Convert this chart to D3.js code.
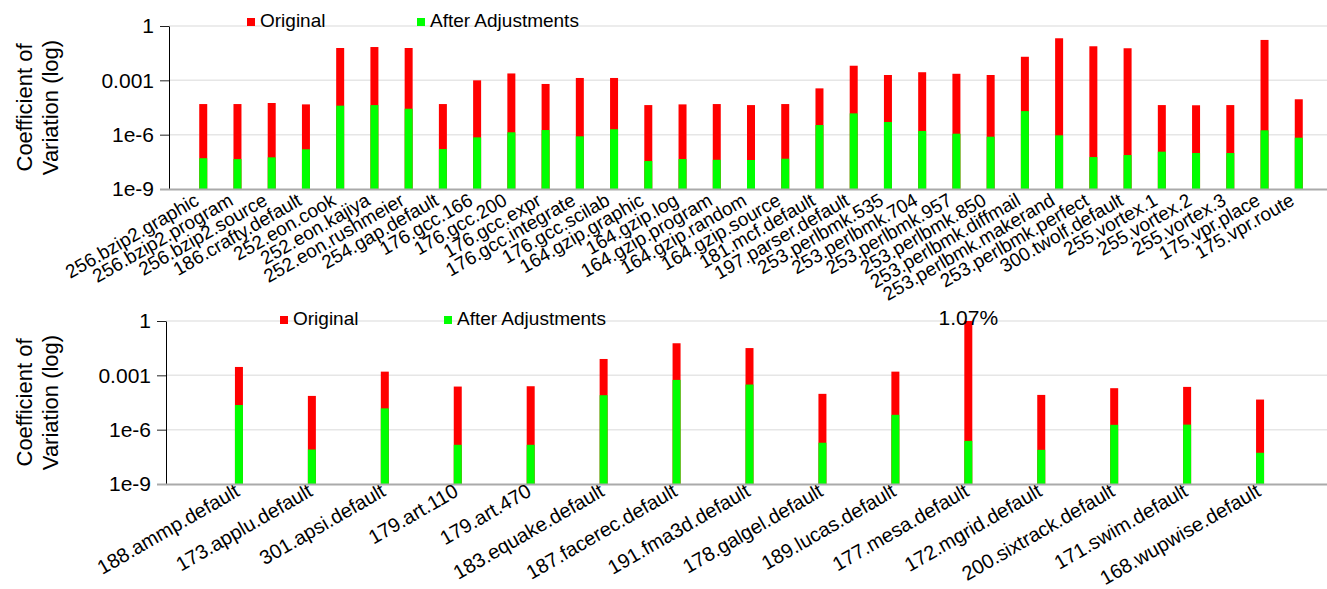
<!DOCTYPE html>
<html>
<head>
<meta charset="utf-8">
<script src="https://cdn.jsdelivr.net/npm/d3@7"></script>
<style>
  html, body { margin: 0; padding: 0; background: #fff; }
  svg { display: block; font-family: "Liberation Sans", Arial, Helvetica, sans-serif; }
</style>
</head>
<body>
<div id="chart"></div>
<script>
const topCategories = [
  "256.bzip2.graphic", "256.bzip2.program", "256.bzip2.source", "186.crafty.default",
  "252.eon.cook", "252.eon.kajiya", "252.eon.rushmeier", "254.gap.default",
  "176.gcc.166", "176.gcc.200", "176.gcc.expr", "176.gcc.integrate", "176.gcc.scilab",
  "164.gzip.graphic", "164.gzip.log", "164.gzip.program", "164.gzip.random", "164.gzip.source",
  "181.mcf.default", "197.parser.default", "253.perlbmk.535", "253.perlbmk.704",
  "253.perlbmk.957", "253.perlbmk.850", "253.perlbmk.diffmail", "253.perlbmk.makerand",
  "253.perlbmk.perfect", "300.twolf.default", "255.vortex.1", "255.vortex.2", "255.vortex.3",
  "175.vpr.place", "175.vpr.route"
];
const topOriginal = [
  4.9e-5, 4.9e-5, 5.6e-5, 4.7e-5, 0.061, 0.069, 0.061, 4.9e-5,
  1.0e-3, 2.4e-3, 6.3e-4, 1.35e-3, 1.35e-3,
  4.3e-5, 4.7e-5, 4.9e-5, 4.3e-5, 4.9e-5,
  3.6e-4, 6.4e-3, 1.97e-3, 2.8e-3, 2.3e-3, 1.97e-3, 0.020, 0.21,
  0.076, 0.059, 4.3e-5, 4.2e-5, 4.3e-5, 0.17, 9.0e-5
];
const topAdjusted = [
  5.0e-8, 4.5e-8, 5.6e-8, 1.56e-7, 4.0e-5, 4.3e-5, 2.7e-5, 1.6e-7,
  7.1e-7, 1.35e-6, 1.8e-6, 8.1e-7, 2.0e-6,
  3.5e-8, 4.5e-8, 4.1e-8, 4.0e-8, 4.7e-8,
  3.4e-6, 1.5e-5, 5.0e-6, 1.6e-6, 1.13e-6, 7.7e-7, 2.0e-5, 9.2e-7,
  5.8e-8, 7.5e-8, 1.15e-7, 9.7e-8, 9.7e-8, 1.74e-6, 6.8e-7
];

const bottomCategories = [
  "188.ammp.default", "173.applu.default", "301.apsi.default", "179.art.110", "179.art.470",
  "183.equake.default", "187.facerec.default", "191.fma3d.default", "178.galgel.default",
  "189.lucas.default", "177.mesa.default", "172.mgrid.default", "200.sixtrack.default",
  "171.swim.default", "168.wupwise.default"
];
const bottomOriginal = [
  2.9e-3, 7.3e-5, 1.6e-3, 2.4e-4, 2.5e-4, 8.0e-3, 0.059, 0.032,
  9.5e-5, 1.6e-3, 1.0, 8.3e-5, 1.95e-4, 2.3e-4, 4.6e-5
];
const bottomAdjusted = [
  2.3e-5, 8.0e-8, 1.5e-5, 1.46e-7, 1.46e-7, 8.0e-5, 5.6e-4, 3.1e-4,
  1.9e-7, 6.6e-6, 2.4e-7, 7.7e-8, 1.85e-6, 1.9e-6, 5.3e-8
];
// annotation above the clipped bar
const bottomNotes = [{ category: "177.mesa.default", label: "1.07%" }];

const yTicks = [1, 0.001, 1e-6, 1e-9];
const yTickLabels = ["1", "0.001", "1e-6", "1e-9"];
const seriesNames = ["Original", "After Adjustments"];
const seriesColors = ["#ff0000", "#00ff00"];

const width = 1327;
const height = 589;

const svg = d3.select("#chart")
  .append("svg")
  .attr("width", width)
  .attr("height", height);

function drawPanel(cfg) {
  const g = svg.append("g");

  const x = d3.scalePoint()
    .domain(cfg.categories)
    .range([cfg.left, cfg.right])
    .padding(1);
  const y = d3.scaleLog()
    .domain([1e-9, 1])
    .range([cfg.bottom, cfg.top])
    .clamp(true);

  // grid lines
  g.append("g")
    .selectAll("line")
    .data(yTicks.slice(0, 3))
    .join("line")
    .attr("x1", cfg.left)
    .attr("x2", width)
    .attr("y1", (d) => y(d))
    .attr("y2", (d) => y(d))
    .attr("stroke", "#e6e6e6")
    .attr("stroke-width", 1.5);

  // bars: original behind, adjusted in front
  const data = cfg.categories.map((c, i) => ({
    category: c,
    original: cfg.original[i],
    adjusted: cfg.adjusted[i],
  }));
  const bars = g.append("g").selectAll("g").data(data).join("g");
  bars.append("rect")
    .attr("x", (d) => x(d.category) - 4)
    .attr("width", 8)
    .attr("y", (d) => y(d.original))
    .attr("height", (d) => cfg.bottom - y(d.original))
    .attr("fill", seriesColors[0]);
  bars.append("rect")
    .attr("x", (d) => x(d.category) - 4)
    .attr("width", 8)
    .attr("y", (d) => y(d.adjusted))
    .attr("height", (d) => cfg.bottom - y(d.adjusted))
    .attr("fill", seriesColors[1]);

  // y axis
  g.append("g")
    .attr("transform", `translate(${cfg.left},0)`)
    .call(
      d3.axisLeft(y)
        .tickValues(yTicks)
        .tickFormat((d, i) => yTickLabels[i])
        .tickSize(9)
        .tickPadding(6)
        .tickSizeOuter(0)
    )
    .call((a) => a.select(".domain").attr("stroke", "#000"))
    .call((a) => a.selectAll(".tick line").attr("stroke", "#222"))
    .call((a) =>
      a.selectAll(".tick text")
        .attr("fill", "#000")
        .style("font-size", "21px")
        .style("font-family", "Liberation Sans, Arial, sans-serif")
    );

  // x baseline
  g.append("line")
    .attr("x1", cfg.left - 9)
    .attr("x2", width)
    .attr("y1", cfg.bottom + 0.5)
    .attr("y2", cfg.bottom + 0.5)
    .attr("stroke", "#aaaaaa")
    .attr("stroke-width", 2);

  // x labels
  g.append("g")
    .selectAll("text")
    .data(cfg.categories)
    .join("text")
    .attr("transform", (d) =>
      `translate(${x(d) + cfg.labelDx},${cfg.bottom + cfg.labelDy}) rotate(-30)`)
    .attr("text-anchor", "end")
    .attr("fill", "#000")
    .style("font-size", cfg.labelSize)
    .text((d) => d);

  // y axis title
  const title = g.append("text")
    .attr("transform", `translate(32,${(cfg.top + cfg.bottom) / 2}) rotate(-90)`)
    .attr("text-anchor", "middle")
    .attr("fill", "#000")
    .style("font-size", "22px");
  title.append("tspan").attr("x", 0).attr("y", 0).text("Coefficient of");
  title.append("tspan").attr("x", 0).attr("y", 26).text("Variation (log)");

  // legend
  seriesNames.forEach((name, i) => {
    const lx = cfg.legendX[i];
    g.append("rect")
      .attr("x", lx)
      .attr("y", cfg.legendY - 9)
      .attr("width", 8)
      .attr("height", 8)
      .attr("fill", seriesColors[i]);
    g.append("text")
      .attr("x", lx + 13)
      .attr("y", cfg.legendY)
      .attr("fill", "#000")
      .style("font-size", "19px")
      .text(name);
  });

  // notes
  (cfg.notes || []).forEach((n) => {
    g.append("text")
      .attr("x", x(n.category))
      .attr("y", cfg.top + 4)
      .attr("text-anchor", "middle")
      .attr("fill", "#000")
      .style("font-size", "21px")
      .text(n.label);
  });
}

drawPanel({
  categories: topCategories,
  original: topOriginal,
  adjusted: topAdjusted,
  left: 169,
  right: 1333,
  top: 26,
  bottom: 189,
  labelDx: -3,
  labelDy: 15,
  labelSize: "19px",
  legendX: [247, 417],
  legendY: 27,
});

drawPanel({
  categories: bottomCategories,
  original: bottomOriginal,
  adjusted: bottomAdjusted,
  notes: bottomNotes,
  left: 166,
  right: 1333,
  top: 321,
  bottom: 484,
  labelDx: 2,
  labelDy: 11,
  labelSize: "20px",
  legendX: [280, 444],
  legendY: 325,
});
</script>
</body>
</html>
